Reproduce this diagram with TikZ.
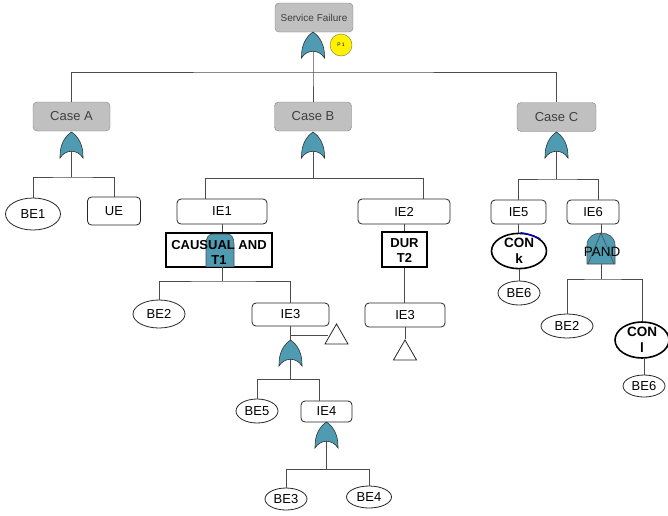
\documentclass[tikz,border=0pt]{standalone}
\usepackage{fontspec}
\setmainfont{Liberation Sans}
\usetikzlibrary{shapes.geometric}
\definecolor{gateteal}{RGB}{78,155,178}
\definecolor{casefill}{RGB}{192,192,192}
\definecolor{caseline}{RGB}{128,128,128}
\newcommand{\myfs}[1]{\fontsize{#1}{#1}\selectfont}
\tikzset{
  orgate/.pic={\filldraw[fill=gateteal,draw=black!80,line width=0.6pt]
    (0,0) .. controls (6,4) and (12,12) .. (11.5,26)
    .. controls (6,17) and (-6,17) .. (-11.5,26)
    .. controls (-12,12) and (-6,4) .. (0,0) -- cycle;},
  casebox/.style={draw=caseline, fill=casefill, rounded corners=4pt, minimum width=77pt,
    minimum height=29pt, inner sep=0pt, text=black!75, font=\myfs{13}},
  evbox/.style={draw=black!85, line width=0.8pt, fill=white, rounded corners=4pt, inner sep=0pt, font=\myfs{13}},
  bev/.style={ellipse, draw=black!85, line width=0.8pt, fill=white, inner sep=0pt, font=\myfs{13}},
  conev/.style={bev, line width=1.6pt, draw=black, align=center,
    font=\bfseries\fontsize{13.5}{15.5}\selectfont},
  gbox/.style={draw=black, line width=1.1pt, fill=white, inner sep=0pt},
  gtext/.style={align=center, inner sep=0pt, font=\bfseries\fontsize{13}{15}\selectfont},
  link/.style={draw=black!70, line width=0.9pt},
  tri/.style={regular polygon, regular polygon sides=3, draw=black!85, line width=0.8pt, fill=white,
    minimum size=26.6pt, inner sep=0pt}
}
\begin{document}
\begin{tikzpicture}[x=1pt,y=-1pt]
\useasboundingbox (0,0) rectangle (668,515);

% ---- top
\node[casebox, minimum width=78pt, font=\myfs{10}] (sf) at (314,17.5) {Service Failure};
\coordinate (g0) at (313,32);
\coordinate (g0n) at (313,51);
\coordinate (bus0) at (313,72);
\node[circle, fill=yellow, draw=black!60!yellow, minimum size=22pt, inner sep=0pt,
  font=\myfs{5}] (p1) at (341,45) {P 1};
\node[casebox] (ca) at (71.5,116.5) {Case A};
\node[casebox] (cb) at (313,116.5) {Case B};
\node[casebox, minimum width=79pt] (cc) at (556.5,117) {Case C};
\draw[link] (g0n) -- (bus0) -- (cb.north);
\draw[link] (ca.north) |- (bus0) -| (cc.north);
\pic at (g0) {orgate};

% ---- Case A
\coordinate (gA) at (71.5,132);
\coordinate (gAn) at (71.5,151);
\coordinate (busA) at (71.5,177);
\node[bev, minimum width=55pt, minimum height=32pt] (be1) at (33,214) {BE1};
\node[evbox, minimum width=53pt, minimum height=28pt] (ue) at (114,211) {UE};
\draw[link] (gAn) -- (busA);
\draw[link] (be1.north) |- (busA) -| (ue.north);
\pic at (gA) {orgate};

% ---- Case B
\coordinate (gB) at (313,132);
\coordinate (gBn) at (313,151);
\coordinate (busB) at (313,178);
\coordinate (bB1) at (205,178);
\coordinate (bB2) at (423,178);
\node[evbox, minimum width=90pt, minimum height=25pt] (ie1) at (222,211.5) {IE1};
\node[evbox, minimum width=92pt, minimum height=25pt] (ie2) at (404,211.5) {IE2};
\draw[link] (gBn) -- (busB);
\draw[link] (bB1) -- (bB2);
\draw[link] (bB1) -- (bB1 |- ie1.north);
\draw[link] (bB2) -- (bB2 |- ie2.north);
\pic at (gB) {orgate};

% CAUSUAL AND
\node[gbox, minimum width=105pt, minimum height=34pt] (cau) at (219,250) {};
\draw[link] (ie1.south) -- (ie1.south |- cau.north);
\filldraw[fill=gateteal, draw=black!70, line width=0.6pt]
  (206,267) -- (206,244) .. controls (206,237) and (209,234) .. (213,234)
  -- (227,234) .. controls (231,234) and (234,237) .. (234,244) -- (234,267) -- cycle;
\draw[line width=1.1pt] (cau.north west) rectangle (cau.south east);
\node[gtext] (cautext) at (219,252) {CAUSUAL AND\\T1};

\coordinate (cauB) at (222,267);
\coordinate (busK) at (222,281);
\node[bev, minimum width=52pt, minimum height=28pt] (be2) at (159,314) {BE2};
\node[evbox, minimum width=77pt, minimum height=23pt] (ie3m) at (290.5,314.5) {IE3};
\draw[link] (cauB) -- (busK);
\draw[link] (be2.north) |- (busK) -| (ie3m.north);

% DUR
\node[gbox, minimum width=45pt, minimum height=35pt] (dur) at (404.5,249.5) {};
\node[gtext] (durtext) at (404.5,250.5) {DUR\\T2};
\draw[link] (dur.north) -- (dur.north |- ie2.south);
\node[evbox, minimum width=80pt, minimum height=24pt] (ie3r) at (405,315) {IE3};
\draw[link] (dur.south) -- (dur.south |- ie3r.north);
\node[tri] (tri2) at (405,353.3) {};
\draw[link] (ie3r.south) -- (tri2.north);

% IE3 middle subtree
\coordinate (gI3) at (290.5,340);
\coordinate (gI3n) at (290.5,359);
\coordinate (j1) at (290.5,335);
\node[tri] (tri1) at (336.5,337.3) {};
\draw[link] (ie3m.south) -- (gI3);
\draw[link] (j1) -- (tri1.west |- j1);
\coordinate (busI3) at (290.5,379);
\coordinate (b5) at (319,379);
\node[bev, minimum width=42pt, minimum height=24pt] (be5) at (257,411) {BE5};
\node[evbox, minimum width=51pt, minimum height=21pt] (ie4) at (326.5,411.5) {IE4};
\draw[link] (gI3n) -- (busI3);
\draw[link] (be5.north) |- (busI3) -- (b5) -- (b5 |- ie4.north);
\pic at (gI3) {orgate};

\coordinate (gI4) at (326.5,422);
\coordinate (gI4n) at (326.5,441);
\coordinate (busI4) at (326.5,469);
\node[bev, minimum width=42pt, minimum height=22pt] (be3) at (286,499) {BE3};
\node[bev, minimum width=45pt, minimum height=22pt] (be4) at (369,497) {BE4};
\draw[link] (gI4n) -- (busI4);
\draw[link] (be3.north) |- (busI4) -| (be4.north);
\pic at (gI4) {orgate};

% ---- Case C
\coordinate (gC) at (556.5,132);
\coordinate (gCn) at (556.5,151);
\coordinate (busC) at (556.5,179);
\coordinate (bC2) at (598,179);
\node[evbox, minimum width=55pt, minimum height=24pt] (ie5) at (518.5,212) {IE5};
\node[evbox, minimum width=52pt, minimum height=24pt] (ie6) at (593,212) {IE6};
\draw[link] (gCn) -- (busC);
\draw[link] (ie5.north) |- (busC) -- (bC2) -- (bC2 |- ie6.north);
\pic at (gC) {orgate};

\node[conev, minimum width=55pt, minimum height=32pt] (conk) at (519,251) {CON\\k};
\draw[blue!80!black, line width=1.2pt] (conk.85) to[bend left=8] (conk.30);
\node[bev, minimum width=42pt, minimum height=24pt] (be6a) at (519,293) {BE6};
\draw[link] (ie5.south) -- (ie5.south |- conk.north);
\draw[link] (conk.south) -- (be6a.north);

% PAND
\coordinate (pd) at (601,233);
\coordinate (pdn) at (601,264);
\draw[link] (pd) -- (pd |- ie6.south);
\filldraw[fill=gateteal, draw=black!70, line width=0.6pt]
  (587,264) -- (587,245) .. controls (587,237) and (594,233) .. (601,233)
  .. controls (608,233) and (615,237) .. (615,245) -- (615,264) -- cycle;
\draw[black!70, line width=0.6pt] (588,264) -- (pd) -- (614,264);
\node[inner sep=0pt, font=\myfs{13.5}] (pand) at (602,252) {PAND};

\coordinate (busP) at (601,279);
\node[bev, minimum width=52pt, minimum height=24pt] (be2r) at (567,326) {BE2};
\node[conev, minimum width=54pt, minimum height=36pt] (conl) at (642,340) {CON\\l};
\node[bev, minimum width=42pt, minimum height=22pt] (be6b) at (644,386) {BE6};
\draw[link] (pdn) -- (busP);
\draw[link] (be2r.north) |- (busP) -| (conl.north);
\draw[link] (be6b.north) -- (be6b.north |- conl.south);
\end{tikzpicture}
\end{document}
